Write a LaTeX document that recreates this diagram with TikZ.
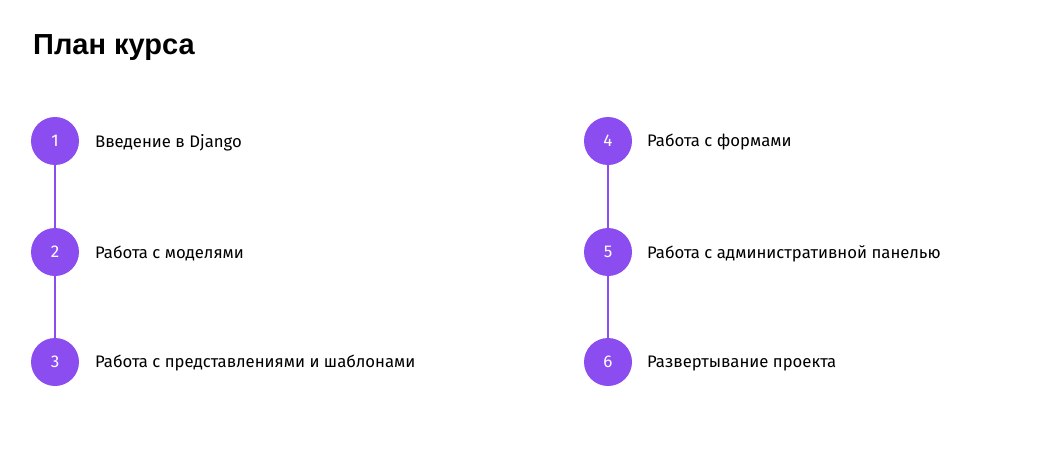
\documentclass[tikz,border=0pt]{standalone}
\usepackage{fontspec}
\setmainfont{Fira Sans}
\newfontfamily\titlefont{Liberation Sans}
\definecolor{stepcol}{HTML}{8B4CF0}
\begin{document}
\begin{tikzpicture}[x=1pt,y=-1pt,
  num/.style={circle,fill=stepcol,minimum size=48pt,inner sep=0pt,text=white,font=\fontsize{17}{17}\selectfont\addfontfeatures{Weight=Light}},
  lbl/.style={anchor=west,inner sep=0pt,font=\fontsize{16.7}{16.7}\selectfont},
  link/.style={draw=stepcol,line width=2.2pt}]
\useasboundingbox (0,0) rectangle (1049,460);
\node[anchor=base west,inner sep=0pt,font=\titlefont\bfseries\fontsize{29}{29}\selectfont] (title) at (33,55) {План курса};
\node[num] (n1) at (55,141) {1};
\node[num] (n2) at (55,252) {2};
\node[num] (n3) at (55,362) {3};
\node[num] (n4) at (608,141) {4};
\node[num] (n5) at (608,252) {5};
\node[num] (n6) at (608,362) {6};
\draw[link] (n1) -- (n2);
\draw[link] (n2) -- (n3);
\draw[link] (n4) -- (n5);
\draw[link] (n5) -- (n6);
\node[lbl] (t1) at (95,142.5) {Введение в Django};
\node[lbl] (t2) at (95,253.5) {Работа с моделями};
\node[lbl] (t3) at (95,363.5) {Работа с представлениями и шаблонами};
\node[lbl] (t4) at (647,142.5) {Работа с формами};
\node[lbl] (t5) at (647,253.5) {Работа с административной панелью};
\node[lbl] (t6) at (647,363.5) {Развертывание проекта};
\end{tikzpicture}
\end{document}
